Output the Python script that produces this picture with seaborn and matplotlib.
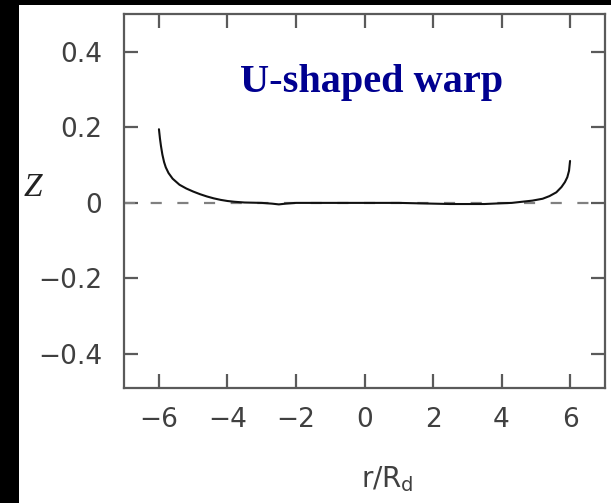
import matplotlib
matplotlib.use("Agg")
import matplotlib.pyplot as plt
import seaborn as sns
import pandas as pd
from matplotlib.patches import Rectangle

# Warp profile Z(r) across the disc
r_over_rd = [-6.0, -5.97, -5.94, -5.9, -5.85, -5.8, -5.72, -5.6, -5.4, -5.2,
             -5.0, -4.8, -4.6, -4.4, -4.2, -4.0, -3.8, -3.5, -3.0, -2.7,
             -2.5, -2.3, -2.0, -1.0, 0.0, 1.0, 2.0, 2.5, 3.0, 3.5,
             4.0, 4.3, 4.6, 4.9, 5.2, 5.4, 5.6, 5.75, 5.85, 5.92, 5.97, 6.0]
z_height = [0.195, 0.17, 0.15, 0.128, 0.108, 0.094, 0.079, 0.064, 0.048, 0.038,
            0.030, 0.023, 0.017, 0.012, 0.008, 0.005, 0.003, 0.001, 0.0, -0.002,
            -0.004, -0.002, 0.0, 0.0, 0.0, 0.0, -0.002, -0.003, -0.003, -0.003,
            -0.001, 0.0, 0.003, 0.006, 0.011, 0.018, 0.028, 0.042, 0.055, 0.068,
            0.085, 0.111]

x_ticks = [-6, -4, -2, 0, 2, 4, 6]
y_ticks = [-0.4, -0.2, 0.0, 0.2, 0.4]
y_ticklabels = ["\u22120.4", "\u22120.2", "0", "0.2", "0.4"]
x_ticklabels = ["\u22126", "\u22124", "\u22122", "0", "2", "4", "6"]

df = pd.DataFrame({"r": r_over_rd, "z": z_height})

sns.set_theme(style="white")
plt.rcParams["font.family"] = ["DejaVu Sans"]

W, H = 611, 503
fig = plt.figure(figsize=(W / 100, H / 100), dpi=100)
fig.patch.set_facecolor("black")
# white panel behind the plot
fig.patches.append(Rectangle((19 / W, 0), 1 - 19 / W, 1 - 5 / H,
                             transform=fig.transFigure, facecolor="white",
                             edgecolor="none", zorder=-5))

ax = fig.add_axes([124 / W, (H - 388) / H, 481 / W, 374 / H])
ax.set_zorder(2)
ax.set_facecolor("white")

ax.axhline(0, color="#808080", lw=1.6, dashes=(5, 7), zorder=1)
sns.lineplot(data=df, x="r", y="z", ax=ax, color="#111111", lw=1.5,
             estimator=None, sort=False, zorder=2)

ax.set_xlim(-7.02, 7.02)
ax.set_ylim(-0.49, 0.5)
ax.set_xticks(x_ticks)
ax.set_xticklabels(x_ticklabels)
ax.set_yticks(y_ticks)
ax.set_yticklabels(y_ticklabels)
ax.set_xlabel("")
ax.set_ylabel("")

spine_c = "#5a5a5a"
for s in ax.spines.values():
    s.set_color(spine_c)
    s.set_linewidth(1.6)
ax.tick_params(axis="both", which="major", direction="in", length=10,
               width=1.6, color=spine_c, labelcolor="#404040", labelsize=19,
               top=True, right=True, bottom=True, left=True)
ax.tick_params(axis="x", pad=14)
ax.tick_params(axis="y", pad=15.5)

fig.text(372 / W, (H - 92) / H, "U-shaped warp", ha="center", va="baseline",
         fontsize=29, fontweight="bold", color="#000090", zorder=5,
         family=["Liberation Serif", "DejaVu Serif"])
fig.text(33 / W, (H - 188) / H, "Z", ha="center", va="center",
         fontsize=24, fontstyle="italic", color="#222222",
         family=["Liberation Serif", "DejaVu Serif"])
fig.text(387 / W, (H - 487) / H, r"r/R$_\mathsf{d}$", ha="center",
         va="baseline", fontsize=20, color="#404040")

fig.savefig("out.png", dpi=100, facecolor=fig.get_facecolor())
